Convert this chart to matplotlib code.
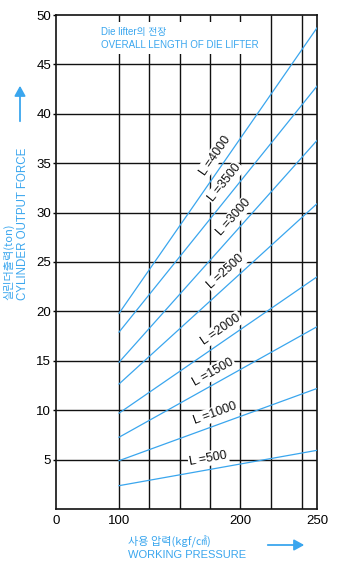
import numpy as np
import matplotlib
matplotlib.use("Agg")
import matplotlib.pyplot as plt
from matplotlib.patches import Rectangle, FancyArrowPatch

# ---------------- data ----------------
lengths = [500, 1000, 1500, 2000, 2500, 3000, 3500, 4000]
p_start = 100
p_end = 250
force_at_start = [2.36, 4.89, 7.26, 9.7, 12.65, 14.85, 17.9, 19.8]
force_at_end = [5.94, 12.2, 18.45, 23.5, 30.9, 37.3, 42.8, 48.7]
label_x = [175.5, 183, 182, 189.4, 194.5, 201.4, 194.6, 186.8]
x_ticks = [0, 100, 200, 250]
y_ticks = [5, 10, 15, 20, 25, 30, 35, 40, 45, 50]
grid_x = [100, 125, 150, 175, 200, 220, 240]
grid_y = [5, 10, 15, 20, 25, 30, 35, 40, 45]

BLUE = "#3aa6ee"
LATIN = ["Liberation Sans", "Noto Sans CJK KR"]
KOR = ["Noto Sans CJK KR", "Liberation Sans"]

# piecewise axis (compressed 0-100 section as in the original)
_nodes_d = [0, 100, 200, 250]
_nodes_p = [0, 63, 184, 261]
def fwd(x):
    return np.interp(x, _nodes_d, _nodes_p)
def inv(p):
    return np.interp(p, _nodes_p, _nodes_d)

fig = plt.figure(figsize=(3.5, 5.63), dpi=100)
ax = fig.add_axes([56 / 350, 54 / 563, 261 / 350, 494 / 563])
ax.set_xscale("function", functions=(fwd, inv))
ax.set_xlim(0, 250)
ax.set_ylim(0, 50)

# grid
for gy in grid_y:
    ax.plot([0, 250], [gy, gy], color="#111111", lw=1.0, zorder=1, solid_capstyle="butt")
for gx in grid_x:
    ax.plot([gx, gx], [0, 50], color="#111111", lw=1.0, zorder=1, solid_capstyle="butt")

# lines
for y0, y1 in zip(force_at_start, force_at_end):
    ax.plot([p_start, p_end], [y0, y1], color=BLUE, lw=0.9, zorder=4)

# labels
d = 8.0
for L, y0, y1, lx in zip(lengths, force_at_start, force_at_end, label_x):
    a = ax.transData.transform((p_start, y0))
    b = ax.transData.transform((p_end, y1))
    th = np.arctan2(b[1] - a[1], b[0] - a[0])
    t = (fwd(lx) - fwd(p_start)) / (fwd(p_end) - fwd(p_start))
    ly = y0 + t * (y1 - y0)
    ax.annotate(f"L ={L}", xy=(lx, ly),
                xytext=(-d * np.sin(th), d * np.cos(th)), textcoords="offset points",
                ha="center", va="center", rotation=np.degrees(th), rotation_mode="anchor",
                fontsize=9, family=LATIN, color="#111111", zorder=3,
                bbox=dict(boxstyle="square,pad=0.12", fc="white", ec="none"))

# ticks
ax.set_xticks(x_ticks)
ax.set_xticklabels([str(v) for v in x_ticks])
ax.set_yticks(y_ticks)
ax.set_yticklabels([str(v) for v in y_ticks])
ax.tick_params(axis="x", length=0, pad=4, labelsize=9.5)
ax.tick_params(axis="y", length=2.5, width=1, pad=1, labelsize=9.5, direction="out")
for lab in ax.get_xticklabels() + ax.get_yticklabels():
    lab.set_family(LATIN)
ax.minorticks_off()
for s in ax.spines.values():
    s.set_linewidth(1.2)
    s.set_color("#111111")

# white panel behind the legend-like title inside the plot
fig.add_artist(Rectangle((97 / 350, 1 - 54 / 563), 161 / 350, 32 / 563,
                         transform=fig.transFigure, fc="white", ec="none", zorder=1))

# annotations (blue texts)
fig.text(101 / 350, 1 - 32 / 563, "Die lifter의 전장", color=BLUE, fontsize=7,
         family=LATIN, ha="left", va="center", zorder=3)
fig.text(101 / 350, 1 - 45 / 563, "OVERALL LENGTH OF DIE LIFTER", color=BLUE, fontsize=7,
         family=LATIN, ha="left", va="center", zorder=3)

fig.text(8.5 / 350, 1 - 300 / 563, "실린더출력(ton)", color=BLUE, fontsize=8,
         family=KOR, rotation=90, ha="center", va="bottom")
fig.text(23 / 350, 1 - 300 / 563, "CYLINDER OUTPUT FORCE", color=BLUE, fontsize=8.3,
         family=LATIN, rotation=90, ha="center", va="bottom")

fig.text(128 / 350, 1 - 542 / 563, "사용 압력(kgf/㎠)", color=BLUE, fontsize=8,
         family=KOR, ha="left", va="center")
fig.text(128 / 350, 1 - 555 / 563, "WORKING PRESSURE", color=BLUE, fontsize=8,
         family=LATIN, ha="left", va="center")

fig.add_artist(FancyArrowPatch(
    (20 / 350, 1 - 124 / 563), (20 / 350, 1 - 83 / 563), transform=fig.transFigure,
    arrowstyle="-|>,head_length=4,head_width=2.2", color=BLUE, lw=1.3, mutation_scale=1.5))
fig.add_artist(FancyArrowPatch(
    (265 / 350, 1 - 545 / 563), (307 / 350, 1 - 545 / 563), transform=fig.transFigure,
    arrowstyle="-|>,head_length=4,head_width=2.2", color=BLUE, lw=1.3, mutation_scale=1.5))

fig.savefig("out.png", dpi=100)
